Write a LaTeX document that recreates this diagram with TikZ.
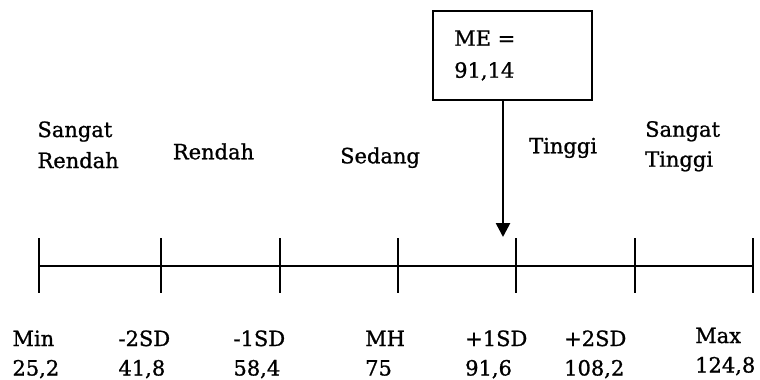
\documentclass[tikz,border=0pt]{standalone}
\usepackage{fontspec}
\setmainfont[FakeBold=1]{DejaVu Serif}
\usetikzlibrary{arrows.meta}
\begin{document}
\begin{tikzpicture}[x=1pt,y=-1pt,
  lbl/.style={anchor=base west,inner sep=0pt,font=\fontsize{21}{30}\selectfont},
  tickline/.style={line width=2.2pt},
  axisline/.style={line width=2.2pt},
  mebox/.style={draw,line width=2pt,minimum width=159pt,minimum height=89pt,inner sep=0pt},
  pointer/.style={line width=2.6pt,-{Triangle[width=14pt,length=14pt]}}]
\useasboundingbox (0,0) rectangle (760,380);
% ticks and axis
\foreach \i/\x in {1/39,2/161,3/280,4/398,5/516,6/635,7/753}{
  \coordinate (top\i) at (\x,238);
  \coordinate (bot\i) at (\x,293);
  \coordinate (ax\i) at (\x,266);
  \draw[tickline] (top\i) -- (bot\i);
}
\draw[axisline] (ax1) -- (ax7);
% box and arrow
\node[mebox] (box) at (512,55.35) {};
\node[lbl] (me1) at (454,45.7) {ME =};
\node[lbl] (me2) at (454,77.7) {91,14};
\coordinate (tip) at (503,237);
\draw[pointer] (box.south -| tip) -- (tip);
% category labels
\node[lbl] (sr1) at (37.3,137) {Sangat};
\node[lbl] (sr2) at (37.3,168) {Rendah};
\node[lbl] (ren) at (172.7,159.3) {Rendah};
\node[lbl] (sed) at (340,163.3) {Sedang};
\node[lbl] (tin) at (529,153.3) {Tinggi};
\node[lbl] (st1) at (645,136.7) {Sangat};
\node[lbl] (st2) at (645,166.7) {Tinggi};
% bottom labels
\node[lbl] (l1a) at (12.3,346) {Min};
\node[lbl] (l1b) at (12.3,375.5) {25,2};
\node[lbl] (l2a) at (118.3,346) {-2SD};
\node[lbl] (l2b) at (118.3,375.5) {41,8};
\node[lbl] (l3a) at (233.3,346) {-1SD};
\node[lbl] (l3b) at (233.3,375.5) {58,4};
\node[lbl] (l4a) at (365,346) {MH};
\node[lbl] (l4b) at (365,375.5) {75};
\node[lbl] (l5a) at (465,346) {+1SD};
\node[lbl] (l5b) at (465,375.5) {91,6};
\node[lbl] (l6a) at (564,346) {+2SD};
\node[lbl] (l6b) at (564,375.5) {108,2};
\node[lbl] (l7a) at (695,343) {Max};
\node[lbl] (l7b) at (695,372.5) {124,8};
\end{tikzpicture}
\end{document}
